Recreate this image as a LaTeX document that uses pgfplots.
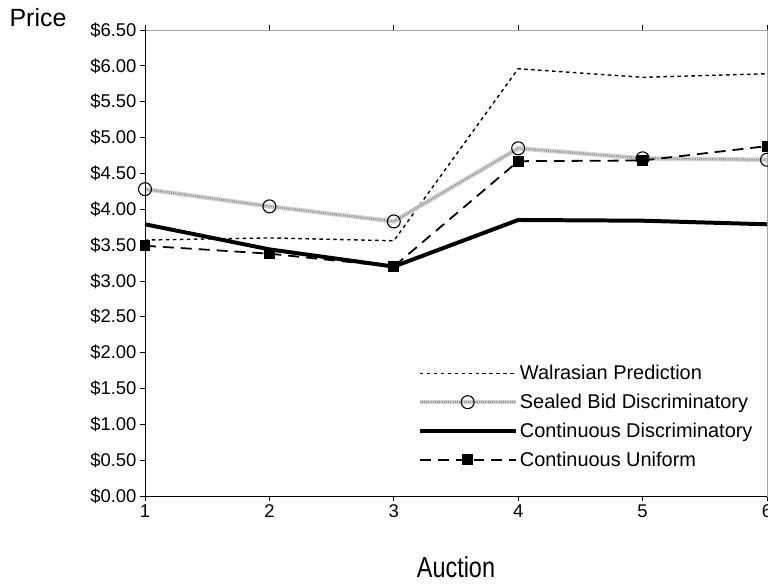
\documentclass[border=0pt]{standalone}
\usepackage{fontspec}
\setmainfont{Liberation Sans}
\newfontfamily\narrowfont[FakeStretch=0.81]{Liberation Sans}
\usepackage{pgfplots}
\pgfplotsset{compat=1.18}
\begin{document}
\begin{tikzpicture}
\begin{axis}[
  name=ax,
  scale only axis,
  width=622bp, height=466bp,
  xmin=1, xmax=6, ymin=0, ymax=6.5,
  xtick={1,2,3,4,5,6},
  ytick={0,0.5,...,6.5},
  tick align=outside,
  tick style={black, line width=0.8pt},
  major tick length=5bp,
  axis line style={gray!70, line width=0.8pt},
  ticklabel style={font=\fontsize{18.5}{21}\selectfont},
  /pgf/number format/assume math mode=true,
  yticklabel={\$\pgfmathprintnumber[fixed,fixed zerofill,precision=2]{\tick}},
  xticklabel={\pgfmathprintnumber{\tick}},
  xlabel={Auction},
  xlabel style={font=\narrowfont\fontsize{29}{31}\selectfont, yshift=-32bp},
  clip=false,
  legend cell align=left,
  legend style={draw=none, fill=none, font=\fontsize{20}{24}\selectfont,
    at={(0.985,0.052)}, anchor=south east, row sep=8.8bp},
  legend image code/.code={\draw[mark repeat=2,mark phase=2,#1] plot coordinates {(0bp,0bp) (48bp,0bp) (96bp,0bp)};},
]
\addplot[black, line width=1.4pt, dash pattern=on 3.5pt off 3.5pt] coordinates {
 (1,3.57) (2,3.60) (3,3.56) (4,5.96) (5,5.84) (6,5.89)};
\addlegendentry{Walrasian Prediction}
\addplot[gray!35, line width=4.5pt, mark=o, mark size=6.5pt,
  postaction={draw, gray!85, line width=2.2pt, dash pattern=on 0.9pt off 1.3pt},
  mark options={black, line width=1.1pt, solid}] coordinates {
 (1,4.28) (2,4.04) (3,3.83) (4,4.85) (5,4.71) (6,4.69)};
\addlegendentry{Sealed Bid Discriminatory}
\addplot[black, line width=4pt] coordinates {
 (1,3.79) (2,3.44) (3,3.20) (4,3.85) (5,3.84) (6,3.79)};
\addlegendentry{Continuous Discriminatory}
\addplot[black, line width=1.8pt, dash pattern=on 11pt off 7pt, mark=square*, mark size=4.5pt,
  mark options={solid}] coordinates {
 (1,3.49) (2,3.38) (3,3.20) (4,4.67) (5,4.68) (6,4.88)};
\addlegendentry{Continuous Uniform}
\draw[black, line width=1pt] (rel axis cs:0,0) -- (rel axis cs:0,1);
\draw[black, line width=1pt] (rel axis cs:0,0) -- (rel axis cs:1,0);
\end{axis}
\node[font=\fontsize{25}{28}\selectfont, anchor=center] at ([xshift=-107bp,yshift=12bp]ax.north west) {Price};
\pgfresetboundingbox
\path[use as bounding box] ([xshift=-145bp,yshift=-88bp]ax.south west) rectangle ([xshift=1bp,yshift=30bp]ax.north east);
\end{tikzpicture}
\end{document}
